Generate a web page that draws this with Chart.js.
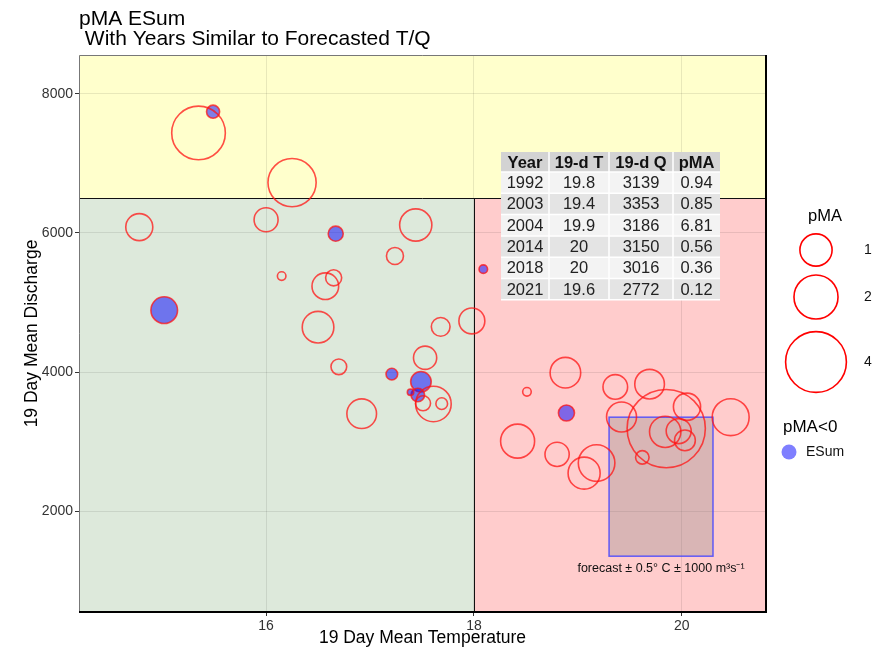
<!DOCTYPE html>
<html>
<head>
<meta charset="utf-8">
<script src="https://cdn.jsdelivr.net/npm/chart.js@4.4.0/dist/chart.umd.min.js"></script>
<style>
  html, body { margin: 0; padding: 0; background: #fff; }
</style>
</head>
<body>
<canvas id="myChart" width="880" height="649"></canvas>
<script>
// one entry per year: 19 day mean temperature, 19 day mean discharge, pMA (negative = ESum)
const tempC = [15.35, 15.49, 16.25, 14.78, 16.00, 16.67, 17.44, 17.24, 18.09, 16.65,
  16.57, 16.50, 17.68, 17.98, 17.53, 16.70, 17.21, 17.49, 17.46, 17.39,
  17.51, 17.61, 17.69, 16.92, 15.02, 16.15, 18.88, 18.51, 18.89, 18.42,
  18.80, 19.18, 19.06, 19.36, 19.42, 19.69, 19.85, 20.05, 20.47, 19.84,
  19.97, 20.03, 19.62];
const discharge = [7440, 7745, 6725, 6085, 6190, 5990, 6115, 5670, 5480, 5355,
  5235, 4645, 4650, 4735, 4205, 4075, 3970, 3860, 3670, 3710,
  3550, 3540, 3545, 3400, 4890, 5380, 3990, 3715, 3410, 3005,
  2815, 2690, 2545, 3785, 3353, 3825, 3186, 3500, 3350, 3139,
  3150, 3016, 2772];
const pma = [3.06, -0.11, 2.43, 0.67, 0.51, -0.16, 1.0, 0.22, -0.03, 0.19,
  0.65, 0.96, 0.28, 0.61, 0.47, 0.18, -0.08, -0.35, -0.12, -0.01,
  0.16, 1.25, 0.08, 0.83, -0.65, 0.03, 0.89, 0.03, -0.19, 1.13,
  0.52, 1.33, 0.99, 0.54, 0.85, 0.83, 6.81, 0.68, 1.36, 0.94,
  0.56, 0.36, 0.12];

const xTicks = [16, 18, 20];
const yTicks = [2000, 4000, 6000, 8000];

// years similar to the forecast
const tableHead = ['Year', '19-d T', '19-d Q', 'pMA'];
const tableYears = ['1992', '2003', '2004', '2014', '2018', '2021'];
const tableT = ['19.8', '19.4', '19.9', '20', '20', '19.6'];
const tableQ = ['3139', '3353', '3186', '3150', '3016', '2772'];
const tablePMA = ['0.94', '0.85', '6.81', '0.56', '0.36', '0.12'];

const legendSizes = [1, 2, 4];

// forecast box and region splits
const forecastT = 19.8, forecastDT = 0.5;
const forecastQ = 2350, forecastDQ = 1000;
const splitT = 18, splitQ = 6500;

const FONT = "'Liberation Sans', Arial, sans-serif";

function bubbleR(p) {
  return 1.8 + 14.3 * Math.sqrt(Math.abs(p));
}

const points = tempC.map((t, i) => ({ x: t, y: discharge[i], r: bubbleR(pma[i]) }));
const redPts = points.filter((p, i) => pma[i] >= 0);
const bluePts = points.filter((p, i) => pma[i] < 0);

const panel = {
  id: 'panel',
  beforeDraw(chart) {
    const { ctx, chartArea: a, scales: { x, y } } = chart;
    const xs = x.getPixelForValue(splitT), ys = y.getPixelForValue(splitQ);
    ctx.save();
    ctx.fillStyle = '#ffffcc';
    ctx.fillRect(a.left, a.top, a.width, ys - a.top);
    ctx.fillStyle = '#dde9db';
    ctx.fillRect(a.left, ys, xs - a.left, a.bottom - ys);
    ctx.fillStyle = '#ffcccc';
    ctx.fillRect(xs, ys, a.right - xs, a.bottom - ys);
    ctx.restore();
  },
  beforeDatasetsDraw(chart) {
    const { ctx, chartArea: a, scales: { x, y } } = chart;
    const xs = x.getPixelForValue(splitT), ys = y.getPixelForValue(splitQ);
    ctx.save();
    ctx.strokeStyle = '#111';
    ctx.lineWidth = 1;
    ctx.beginPath();
    ctx.moveTo(a.left, Math.round(ys) + 0.5);
    ctx.lineTo(a.right, Math.round(ys) + 0.5);
    ctx.moveTo(Math.round(xs) + 0.5, ys);
    ctx.lineTo(Math.round(xs) + 0.5, a.bottom);
    ctx.stroke();
    // forecast box
    const fx0 = x.getPixelForValue(forecastT - forecastDT), fx1 = x.getPixelForValue(forecastT + forecastDT);
    const fy0 = y.getPixelForValue(forecastQ + forecastDQ), fy1 = y.getPixelForValue(forecastQ - forecastDQ);
    ctx.fillStyle = 'rgba(128,128,128,0.3)';
    ctx.fillRect(fx0, fy0, fx1 - fx0, fy1 - fy0);
    ctx.strokeStyle = 'rgba(70,70,255,0.85)';
    ctx.lineWidth = 1.5;
    ctx.strokeRect(fx0, fy0, fx1 - fx0, fy1 - fy0);
    ctx.fillStyle = '#111';
    ctx.font = '12.5px ' + FONT;
    ctx.textAlign = 'center';
    ctx.textBaseline = 'middle';
    ctx.fillText('forecast \u00b1 0.5\u00b0 C \u00b1 1000 m\u00b3s\u207b\u00b9', (fx0 + fx1) / 2, fy1 + 12);
    ctx.restore();
  },
  afterDatasetsDraw(chart) {
    const { ctx, chartArea: a } = chart;
    ctx.save();
    ctx.strokeStyle = '#777';
    ctx.lineWidth = 1;
    ctx.beginPath();
    ctx.moveTo(a.left + 0.5, a.bottom);
    ctx.lineTo(a.left + 0.5, a.top + 0.5);
    ctx.lineTo(a.right, a.top + 0.5);
    ctx.stroke();
    ctx.strokeStyle = '#000';
    ctx.lineWidth = 2;
    ctx.beginPath();
    ctx.moveTo(a.left, a.bottom);
    ctx.lineTo(a.right, a.bottom);
    ctx.lineTo(a.right, a.top);
    ctx.stroke();
    ctx.restore();
  },
  afterDraw(chart) {
    const { ctx, chartArea: a } = chart;
    ctx.save();
    // title
    ctx.fillStyle = '#000';
    ctx.font = '21px ' + FONT;
    ctx.textAlign = 'left';
    ctx.textBaseline = 'alphabetic';
    ctx.fillText('pMA ESum', a.left, 25);
    ctx.fillText(' With Years Similar to Forecasted T/Q', a.left, 45);

    // table
    const colW = [48, 60, 64, 47];
    const left = 501, top = 152, headH = 20, rowH = 21.3;
    const cols = [tableYears, tableT, tableQ, tablePMA];
    ctx.textAlign = 'center';
    ctx.textBaseline = 'middle';
    let cx = left;
    colW.forEach((w, c) => {
      ctx.fillStyle = '#d3d3d3';
      ctx.fillRect(cx, top, w, headH);
      ctx.fillStyle = '#111';
      ctx.font = 'bold 16.5px ' + FONT;
      ctx.fillText(tableHead[c], cx + w / 2, top + headH / 2 + 1);
      ctx.font = '16.5px ' + FONT;
      cols[c].forEach((v, r) => {
        const ry = top + headH + r * rowH;
        ctx.fillStyle = r % 2 === 0 ? '#f3f3f3' : '#e4e4e4';
        ctx.fillRect(cx, ry, w, rowH);
        ctx.fillStyle = '#222';
        ctx.fillText(v, cx + w / 2, ry + rowH / 2 + 1);
      });
      cx += w;
    });
    // white cell separators
    ctx.strokeStyle = '#fff';
    ctx.lineWidth = 1.5;
    ctx.beginPath();
    cx = left;
    colW.forEach((w, c) => {
      if (c > 0) { ctx.moveTo(cx, top); ctx.lineTo(cx, top + headH + rowH * tableYears.length); }
      cx += w;
    });
    for (let r = 0; r <= tableYears.length; r++) {
      const ry = top + headH + r * rowH;
      ctx.moveTo(left, ry);
      ctx.lineTo(cx, ry);
    }
    ctx.stroke();

    // legend
    const lx = 816;
    ctx.fillStyle = '#000';
    ctx.font = '16.5px ' + FONT;
    ctx.fillText('pMA', 825, 216);
    const ly = [250, 297, 362];
    legendSizes.forEach((s, i) => {
      ctx.beginPath();
      ctx.arc(lx, ly[i], bubbleR(s), 0, Math.PI * 2);
      ctx.strokeStyle = '#ff0000';
      ctx.lineWidth = 1.6;
      ctx.stroke();
      ctx.fillStyle = '#111';
      ctx.font = '14px ' + FONT;
      ctx.textAlign = 'left';
      ctx.fillText(String(s), 864, ly[i]);
      ctx.textAlign = 'center';
    });
    ctx.font = '17px ' + FONT;
    ctx.textAlign = 'left';
    ctx.fillStyle = '#000';
    ctx.fillText('pMA<0', 783, 427);
    ctx.beginPath();
    ctx.arc(789, 452, 7.5, 0, Math.PI * 2);
    ctx.fillStyle = 'rgba(0,0,255,0.5)';
    ctx.fill();
    ctx.fillStyle = '#111';
    ctx.font = '14px ' + FONT;
    ctx.fillText('ESum', 806, 452);
    ctx.restore();
  }
};

new Chart(document.getElementById('myChart'), {
  type: 'bubble',
  data: {
    datasets: [
      { label: 'pMA', data: redPts, backgroundColor: 'rgba(0,0,0,0)', borderColor: 'rgba(255,20,20,0.75)', borderWidth: 1.6 },
      { label: 'ESum', data: bluePts, backgroundColor: 'rgba(0,0,255,0.5)', borderColor: 'rgba(255,20,20,0.75)', borderWidth: 1.6 }
    ]
  },
  options: {
    responsive: false,
    animation: false,
    events: [],
    layout: { autoPadding: false, padding: { top: 55, right: 114, left: 0, bottom: 0 } },
    plugins: { legend: { display: false }, tooltip: { enabled: false } },
    scales: {
      x: {
        type: 'linear', min: 14.2, max: 20.81,
        afterBuildTicks: s => { s.ticks = xTicks.map(v => ({ value: v })); },
        afterFit: s => { s.height = 37; s.paddingLeft = 0; s.paddingRight = 0; },
        grid: { color: 'rgba(0,0,0,0.09)', tickColor: '#333', tickLength: 4 },
        border: { display: false },
        ticks: { color: '#333', font: { family: FONT, size: 14 }, padding: 2, maxRotation: 0 },
        title: { display: true, text: '19 Day Mean Temperature', color: '#000', font: { family: FONT, size: 17.5 }, padding: { top: 0, bottom: 0 } }
      },
      y: {
        type: 'linear', min: 547, max: 8561,
        afterBuildTicks: s => { s.ticks = yTicks.map(v => ({ value: v })); },
        afterFit: s => { s.width = 79; s.paddingTop = 0; s.paddingBottom = 0; },
        grid: { color: 'rgba(0,0,0,0.09)', tickColor: '#333', tickLength: 4 },
        border: { display: false },
        ticks: { color: '#333', font: { family: FONT, size: 14 }, padding: 2, callback: v => String(v) },
        title: { display: true, text: '19 Day Mean Discharge', color: '#000', font: { family: FONT, size: 17.5 }, padding: { top: 22, bottom: 0 } }
      }
    }
  },
  plugins: [panel]
});
</script>
</body>
</html>
